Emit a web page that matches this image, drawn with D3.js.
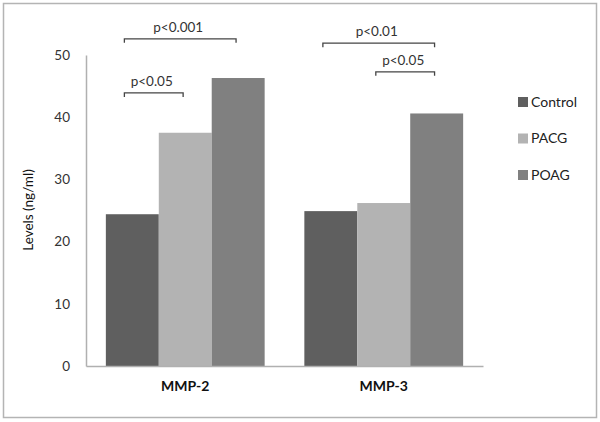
<!DOCTYPE html>
<html>
<head>
<meta charset="utf-8">
<script src="https://cdn.jsdelivr.net/npm/d3@7"></script>
<style>
  body { margin: 0; background: #fff; }
  svg { display: block; font-family: Lato, "Open Sans", sans-serif; }
</style>
</head>
<body>
<svg id="chart" width="600" height="422"></svg>
<script>
/* data */
const groups = ['MMP-2', 'MMP-3'];
const series = ['Control', 'PACG', 'POAG'];
const mmp2 = [24.4, 37.5, 46.3];
const mmp3 = [24.9, 26.2, 40.6];
const yTicks = [0, 10, 20, 30, 40, 50];
// significance brackets: group, from series, to series, height (ng/ml), label
const brackets = [
  ['MMP-2', 'Control', 'POAG', 52.6, 'p<0.001'],
  ['MMP-2', 'Control', 'PACG', 43.9, 'p<0.05'],
  ['MMP-3', 'Control', 'POAG', 51.9, 'p<0.01'],
  ['MMP-3', 'PACG', 'POAG', 47.3, 'p<0.05']
];

const COLORS = ['#5f5f5f', '#b3b3b3', '#808080'];

const svg = d3.select('#chart');
const margin = { top: 55, left: 86, bottom: 56, right: 117 };
const width = 600 - margin.left - margin.right;
const height = 422 - margin.top - margin.bottom;

// outer frame
svg.append('rect')
  .attr('x', 3.5).attr('y', 3.5)
  .attr('width', 593).attr('height', 414)
  .attr('fill', 'none').attr('stroke', '#b4b4b4').attr('stroke-width', 1.5);

const g = svg.append('g')
  .attr('transform', 'translate(' + margin.left + ',' + margin.top + ')');

const x0 = d3.scaleBand().domain(groups).range([0, width]);
const gap = x0.bandwidth() * 0.2;
const x1 = d3.scaleBand().domain(series).range([gap / 2, x0.bandwidth() - gap / 2]);
const y = d3.scaleLinear().domain([0, 50]).range([height, 0]);
const color = d3.scaleOrdinal().domain(series).range(COLORS);

// y axis
const yAxis = g.append('g')
  .call(d3.axisLeft(y).tickValues(yTicks).tickSize(0).tickPadding(16));
yAxis.select('.domain').attr('stroke', '#b0b0b0').attr('stroke-width', 1.5);
yAxis.selectAll('text').attr('font-size', 13.5).attr('fill', '#333')
  .attr('font-family', 'Lato, "Open Sans", sans-serif');

// bars
const rows = { 'MMP-2': mmp2, 'MMP-3': mmp3 };
groups.forEach(grp => {
  g.append('g')
    .attr('transform', 'translate(' + x0(grp) + ',0)')
    .selectAll('rect')
    .data(rows[grp])
    .enter().append('rect')
    .attr('x', (d, i) => x1(series[i]))
    .attr('width', x1.bandwidth())
    .attr('y', d => y(d))
    .attr('height', d => height - y(d))
    .attr('fill', (d, i) => COLORS[i]);
});

// x axis
const xAxis = g.append('g')
  .attr('transform', 'translate(0,' + height + ')')
  .call(d3.axisBottom(x0).tickSize(0).tickPadding(15));
xAxis.select('.domain').attr('stroke', '#b0b0b0').attr('stroke-width', 1.5);
xAxis.selectAll('text').attr('font-size', 14).attr('font-weight', 'bold')
  .attr('fill', '#111').attr('font-family', 'Lato, "Open Sans", sans-serif');

// brackets
brackets.forEach(b => {
  let [grp, from, to, level, label] = b;
  let xa = x0(grp) + x1(from) + x1.bandwidth() * 0.35;
  let xb = x0(grp) + x1(to) + x1.bandwidth() * 0.46;
  let yy = y(level);
  g.append('path')
    .attr('d', 'M' + xa + ',' + (yy + 4) + 'V' + yy + 'H' + xb + 'V' + (yy + 4))
    .attr('fill', 'none').attr('stroke', '#444').attr('stroke-width', 1.3);
  g.append('text')
    .attr('x', (xa + xb) / 2 - 2)
    .attr('y', yy - 7)
    .attr('text-anchor', 'middle')
    .attr('font-size', 13.5).attr('fill', '#333')
    .text(label);
});

// y label
svg.append('text')
  .attr('transform', 'translate(33,210) rotate(-90)')
  .attr('text-anchor', 'middle')
  .attr('font-size', 13.5).attr('fill', '#111')
  .text('Levels (ng/ml)');

// legend
const legend = svg.append('g').attr('transform', 'translate(518,102)');
series.forEach((s, i) => {
  let row = legend.append('g').attr('transform', 'translate(0,' + i * 36.5 + ')');
  row.append('rect')
    .attr('x', 0).attr('y', -5).attr('width', 10).attr('height', 10)
    .attr('fill', color(s));
  row.append('text')
    .attr('x', 13).attr('y', 0).attr('dy', '0.35em')
    .attr('font-size', 14).attr('fill', '#222')
    .text(s);
});
</script>
</body>
</html>
